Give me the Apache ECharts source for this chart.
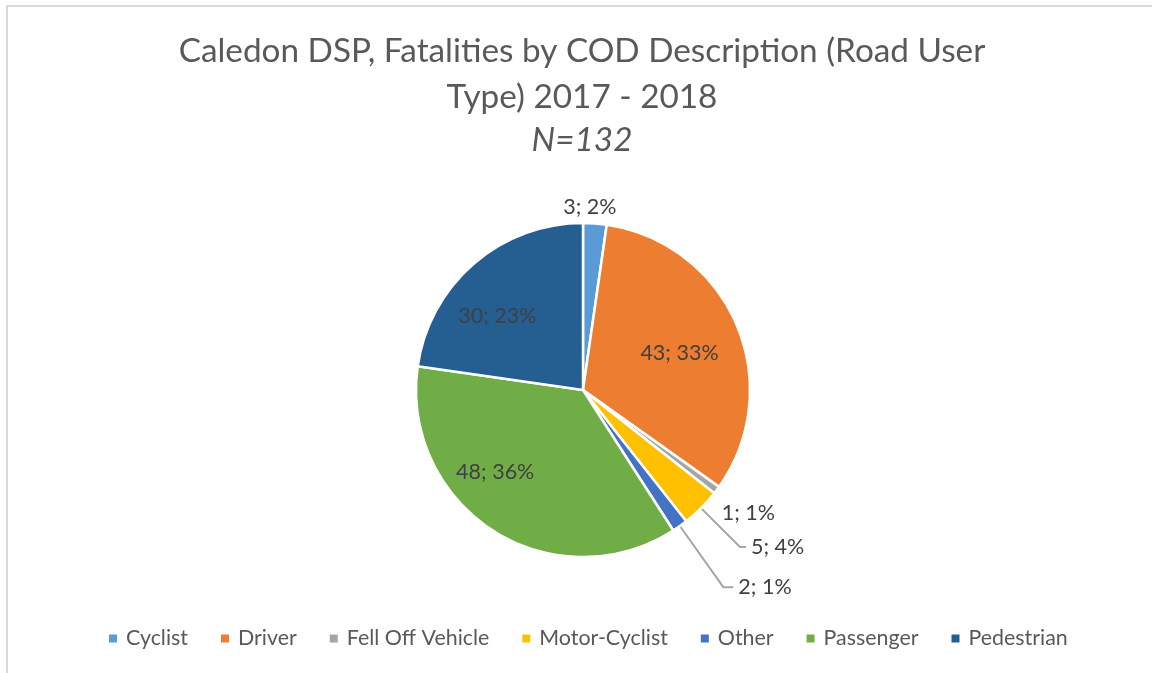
<!DOCTYPE html>
<html>
<head>
<meta charset="utf-8">
<script src="https://cdn.jsdelivr.net/npm/echarts@6/dist/echarts.min.js"></script>
<style>
  html, body { margin: 0; padding: 0; background: #fff; overflow: hidden; }
  #frame { position: absolute; left: 6px; top: 5px; width: 1160px; height: 680px;
           border-left: 2px solid #d9d9d9; border-top: 2px solid #d9d9d9; }
  #chart { position: absolute; left: 0; top: 0; width: 1164px; height: 673px; }
</style>
</head>
<body>
<div id="frame"></div>
<div id="chart"></div>
<script>
// road user types and fatality counts, 2017 - 2018
const categories = ['Cyclist', 'Driver', 'Fell Off Vehicle', 'Motor-Cyclist', 'Other', 'Passenger', 'Pedestrian']
const counts = [3, 43, 1, 5, 2, 48, 30]
// percentages as printed on the chart
const percentLabels = ['2%', '33%', '1%', '4%', '1%', '36%', '23%']

const colors = ['#5b9bd5', '#ed7d31', '#a5a5a5', '#ffc000', '#4472c4', '#70ad47', '#255e91']
const font = 'Lato, "Open Sans", sans-serif'

// label placement per slice: big ones inside, small ones outside
const labelCfg = {
  0: { label: { offset: [-38, 2] }, labelLine: { show: false, length: 18, length2: 0 } },
  1: { label: { position: 'inside', offset: [17, -3] } },
  2: { label: { offset: [-16, 11] }, labelLine: { show: false, length: 20, length2: 0 } },
  3: { labelLine: { length: 55, length2: 6 } },
  4: { labelLine: { length: 75, length2: 10 } },
  5: { label: { position: 'inside', offset: [-41, 9] } },
  6: { label: { position: 'inside', offset: [-29, -9] } }
}

const chart = echarts.init(document.getElementById('chart'))

const pieData = categories.map((name, i) => {
  return Object.assign({ name: name, value: counts[i], itemStyle: { color: colors[i] } }, labelCfg[i])
})

chart.setOption({
  animation: false,
  title: {
    text: 'Caledon DSP, Fatalities by COD Description (Road User\nType) 2017 - 2018',
    subtext: 'N=132',
    left: 'center',
    top: 23,
    itemGap: 0,
    textStyle: { fontFamily: font, fontSize: 33.3, fontWeight: 'normal', color: '#595959', lineHeight: 46 },
    subtextStyle: { fontFamily: font, fontSize: 33.3, fontStyle: 'italic', color: '#595959', lineHeight: 40 }
  },
  legend: {
    bottom: 19,
    left: 102,
    icon: 'rect',
    itemWidth: 10,
    itemHeight: 10,
    itemGap: 31,
    data: categories,
    textStyle: { fontFamily: font, fontSize: 21.4, color: '#595959', padding: [0, 0, 0, 3] }
  },
  series: [{
    type: 'pie',
    center: [583, 390],
    radius: 167,
    startAngle: 90,
    clockwise: true,
    avoidLabelOverlap: false,
    itemStyle: { borderColor: '#fff', borderWidth: 2.5 },
    emphasis: { disabled: true },
    label: {
      position: 'outside',
      fontFamily: font,
      fontSize: 21.5,
      color: '#404040',
      formatter: p => counts[p.dataIndex] + '; ' + percentLabels[p.dataIndex]
    },
    labelLine: { show: true, lineStyle: { color: '#a6a6a6', width: 2 } },
    data: pieData
  }]
})
</script>
</body>
</html>
